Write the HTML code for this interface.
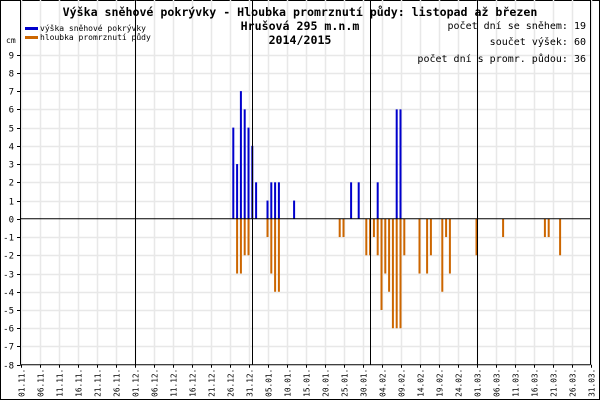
<!DOCTYPE html>
<html><head><meta charset="utf-8"><style>
html,body{margin:0;padding:0;background:#fff;}
svg{display:block;}
text{font-family:"DejaVu Sans Mono","Liberation Mono",monospace;}
</style></head><body>
<svg id="s" width="600" height="400" xmlns="http://www.w3.org/2000/svg">
<rect x="0.5" y="0.5" width="599" height="399" fill="#fff" stroke="#000"/>
<g id="grid" stroke="#e8e8e8" stroke-width="1.5"></g>
<g id="bars"></g>
<g id="axes"></g>
<text x="300" y="16" text-anchor="middle" font-size="11.6" font-weight="bold">Výška sněhové pokrývky - Hloubka promrznutí půdy: listopad až březen</text>
<text x="300" y="30" text-anchor="middle" font-size="11.6" font-weight="bold">Hrušová 295 m.n.m</text>
<text x="300" y="44" text-anchor="middle" font-size="11.6" font-weight="bold">2014/2015</text>
<text x="586" y="29" text-anchor="end" font-size="10">počet dní se sněhem: 19</text>
<text x="586" y="45" text-anchor="end" font-size="10">součet výšek: 60</text>
<text x="586" y="62" text-anchor="end" font-size="10">počet dní s promr. půdou: 36</text>
<rect x="25" y="27" width="13" height="3" fill="#0000cc"/>
<rect x="25" y="36" width="13" height="3" fill="#cc6600"/>
<text x="40" y="31" font-size="8">výška sněhové pokrývky</text>
<text x="40" y="40" font-size="8">hloubka promrznutí půdy</text>
<text x="6" y="43" font-size="8">cm</text>
</svg>
<script>
var ns="http://www.w3.org/2000/svg",s=document.getElementById('s');
function el(p,t,a,txt){var e=document.createElementNS(ns,t);for(var k in a)e.setAttribute(k,a[k]);if(txt!=null)e.textContent=txt;document.getElementById(p).appendChild(e);return e;}
var X=function(d){return 20.5+3.8*d;},Z=218.8,U=18.24,Y=function(v){return Z-v*U;};
var top=42.5,bot=364.7,right=590.5;
for(var v=-8;v<=9;v++){var y=Math.round(Y(v))+0.5;
 if(v!=0&&v!=-8)el('grid','line',{x1:20.5,x2:right,y1:y,y2:y});
 el('axes','line',{x1:17,x2:20.5,y1:y,y2:y,stroke:'#000'});
 el('axes','text',{x:14,y:y+3,'text-anchor':'end','font-size':9},String(v));}
var dates=[];var months=[[11,30],[12,31],[1,31],[2,28],[3,31]];
months.forEach(function(m){for(var i=1;i<=m[1];i++)dates.push([i,m[0]]);});
for(var d=0;d<=150;d+=5){var x=Math.round(X(d))+0.5;
 el('grid','line',{x1:x,x2:x,y1:top,y2:bot});
 el('axes','line',{x1:x,x2:x,y1:bot,y2:bot+3,stroke:'#000'});
 var dt=dates[d];var lbl=(dt[0]<10?'0':'')+dt[0]+'.'+(dt[1]<10?'0':'')+dt[1]+'.';
 el('axes','text',{x:0,y:0,'font-size':7.8,'text-anchor':'end',transform:'translate('+(x+3)+','+(bot+4)+') rotate(-90)'},lbl);}
[30,61,92,120].forEach(function(d){var x=Math.round(X(d))+0.5;el('axes','line',{x1:x,x2:x,y1:top,y2:bot,stroke:'#000'});});
el('axes','line',{x1:20.5,x2:20.5,y1:top,y2:bot,stroke:'#000'});
el('axes','line',{x1:right,x2:right,y1:top,y2:bot,stroke:'#000'});
el('axes','line',{x1:20.5,x2:right,y1:bot,y2:bot,stroke:'#000'});
el('axes','line',{x1:20.5,x2:right,y1:Z,y2:Z,stroke:'#000'});
var blue=[[56,5],[57,3],[58,7],[59,6],[60,5],[61,4],[62,2],[65,1],[66,2],[67,2],[68,2],[72,1],[87,2],[89,2],[94,2],[99,6],[100,6]];
var org=[[57,3],[58,3],[59,2],[60,2],[65,1],[66,3],[67,4],[68,4],[84,1],[85,1],[91,2],[92,2],[93,1],[94,2],[95,5],[96,3],[97,4],[98,6],[99,6],[100,6],[101,2],[105,3],[107,3],[108,2],[111,4],[112,1],[113,3],[120,2],[127,1],[138,1],[139,1],[142,2]];
blue.forEach(function(b){el('bars','rect',{x:X(b[0])-1,y:Y(b[1]),width:2,height:b[1]*U,fill:'#0000cc'});});
org.forEach(function(b){el('bars','rect',{x:X(b[0])-1,y:Z,width:2,height:b[1]*U,fill:'#cc6600'});});
</script>
</body></html>
